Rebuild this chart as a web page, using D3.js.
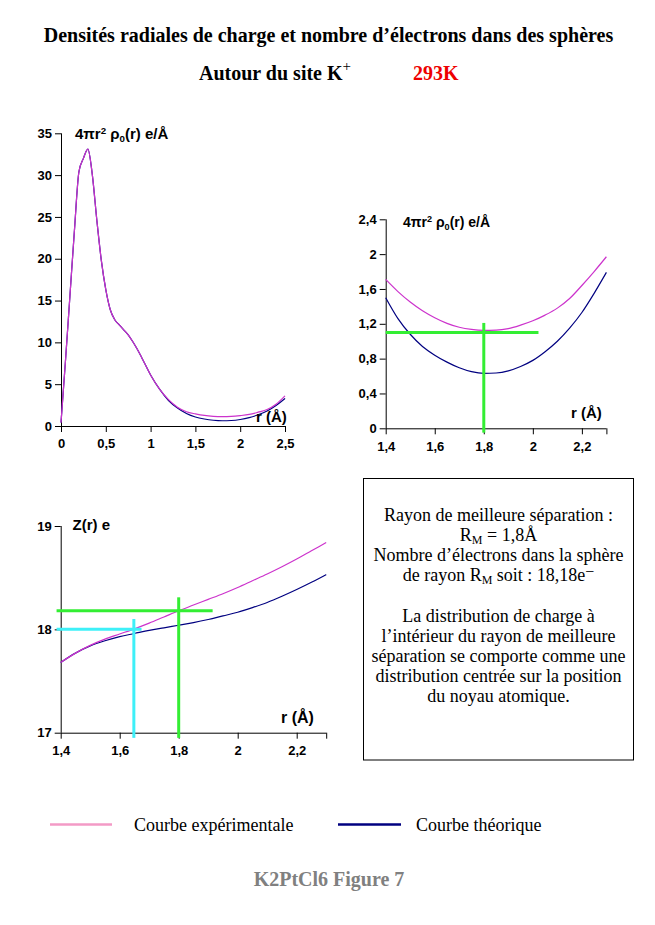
<!DOCTYPE html>
<html><head><meta charset="utf-8">
<script src="https://cdn.jsdelivr.net/npm/d3@7/dist/d3.min.js"></script>
<style>body{margin:0;background:#fff}svg{display:block}</style>
</head><body>
<svg id="c" width="655" height="925"></svg>
<script>
// ---- data ----
const tlR    = [0,0.05,0.1,0.15,0.2,0.25,0.3,0.35,0.4,0.45,0.5,0.55,0.6,0.65,0.7,0.75,0.8,0.85,0.9,1.0,1.1,1.2,1.3,1.4,1.5,1.6,1.7,1.8,1.9,2.0,2.1,2.2,2.3,2.4,2.5];
const tlExp  = [0.4,7.8,15.6,23.4,30.4,32.0,33.1,30.0,24.6,19.8,16.3,13.9,12.7,12.1,11.5,10.9,10.1,9.2,8.2,6.1,4.4,3.15,2.25,1.71,1.45,1.26,1.16,1.125,1.15,1.24,1.38,1.65,1.97,2.6,3.6];
const tlTheo = [0.4,7.8,15.6,23.4,30.4,32.0,33.1,30.0,24.6,19.8,16.3,13.9,12.7,12.1,11.5,10.9,10.1,9.2,8.2,6.1,4.4,3.05,2.15,1.50,1.08,0.84,0.69,0.63,0.66,0.78,1.00,1.34,1.79,2.45,3.3];

const zR     = [1.40,1.45,1.50,1.55,1.60,1.65,1.70,1.75,1.80,1.85,1.90,1.95,2.00,2.05,2.10,2.15,2.20,2.25,2.30];
const trExp  = [1.71,1.57,1.45,1.35,1.27,1.205,1.16,1.135,1.125,1.127,1.145,1.185,1.235,1.30,1.38,1.49,1.64,1.80,1.97];
const trTheo = [1.50,1.26,1.08,0.94,0.84,0.76,0.695,0.65,0.63,0.635,0.66,0.71,0.78,0.88,1.00,1.15,1.33,1.55,1.79];
const zExp   = [17.68,17.77,17.845,17.905,17.955,18.005,18.06,18.12,18.18,18.235,18.29,18.345,18.405,18.47,18.535,18.605,18.68,18.76,18.84];
const zTheo  = [17.68,17.77,17.84,17.89,17.93,17.96,17.99,18.015,18.04,18.065,18.095,18.13,18.165,18.21,18.26,18.32,18.385,18.455,18.53];

const tlXTicks = [0,0.5,1,1.5,2,2.5];
const tlYTicks = [0,5,10,15,20,25,30,35];
const trXTicks = [1.4,1.6,1.8,2.0,2.2,2.3];
const trYTicks = [0,0.4,0.8,1.2,1.6,2.0,2.4];
const zXTicks  = [1.4,1.6,1.8,2.0,2.2,2.3];
const zYTicks  = [17,18,19];

// reference (guide) lines in data units: [x1,y1,x2,y2]
const trGuides = [[1.4,1.10,2.023,1.10],[1.8,1.21,1.8,-0.05]];
const zGreen   = [[1.386,18.18,1.915,18.18],[1.8,18.31,1.8,16.95]];
const zCyan    = [[1.386,18.0,1.674,18.0],[1.648,18.10,1.648,16.95]];

const textLines = [
  [["Rayon de meilleure séparation :"]],
  [["R"],["M","sub"],[" = 1,8Å"]],
  [["Nombre d’électrons dans la sphère"]],
  [["de rayon R"],["M","sub"],[" soit : 18,18e"],["−","sup"]],
  [[""]],
  [["La distribution de charge à"]],
  [["l’intérieur du rayon de meilleure"]],
  [["séparation se comporte comme une"]],
  [["distribution centrée sur la position"]],
  [["du noyau atomique."]]
];
const legendLabels = ["Courbe expérimentale","Courbe théorique"];

// ---- style ----
const EXP = "#cc33cc", THEO = "#000080", GREEN = "#33ee33", CYAN = "#3ef0f8";
const SANS = "'Liberation Sans', Arial, sans-serif";
const SERIF = "'Liberation Serif', 'Times New Roman', serif";
const fr = v => String(+v.toFixed(2)).replace(".", ",");

const svg = d3.select("#c");
svg.append("rect").attr("width",655).attr("height",925).attr("fill","#fff");

// title
svg.append("text").attr("x",328.5).attr("y",42).attr("text-anchor","middle")
  .attr("font-family",SERIF).attr("font-weight","bold").attr("font-size",20)
  .text("Densités radiales de charge et nombre d’électrons dans des sphères");
const t2 = svg.append("text").attr("x",199).attr("y",80)
  .attr("font-family",SERIF).attr("font-weight","bold").attr("font-size",20);
t2.append("tspan").text("Autour du site K");
t2.append("tspan").attr("dy",-9).attr("font-size",15).attr("font-weight","normal").text("+");
svg.append("text").attr("x",413).attr("y",80).attr("fill","#ee0000")
  .attr("font-family",SERIF).attr("font-weight","bold").attr("font-size",20).text("293K");

function chart(o){
  const g = svg.append("g");
  const x = d3.scaleLinear().domain(o.xd).range(o.xr);
  const y = d3.scaleLinear().domain(o.yd).range(o.yr);
  const xa = g.append("g").attr("transform",`translate(0,${o.yr[0]})`)
    .call(d3.axisBottom(x).tickValues(o.xt).tickSize(6).tickPadding(7)
      .tickFormat(d => (o.noLabel && o.noLabel.includes(d)) ? "" : fr(d)));
  const ya = g.append("g").attr("transform",`translate(${o.xr[0]},0)`)
    .call(d3.axisLeft(y).tickValues(o.yt).tickSize(6).tickPadding(3).tickFormat(fr));
  [xa,ya].forEach(a=>{
    a.select(".domain").attr("stroke","#000");
    a.selectAll("text").attr("font-family",SANS).attr("font-weight","bold").attr("font-size",13).attr("fill","#000");
    a.selectAll("line").attr("stroke","#000");
  });
  xa.select(".domain").attr("d",`M${o.xr[0]},0.5H${o.xr[1]}`);
  ya.select(".domain").attr("d",`M0.5,${o.yr[0]}V${o.yr[1]}`);
  const line = d3.line().x(d=>x(d[0])).y(d=>y(d[1])).curve(d3.curveMonotoneX);
  o.series.forEach(s=>{
    g.append("path").attr("d",line(o.r.map((r,i)=>[r,s.v[i]])))
      .attr("fill","none").attr("stroke",s.c).attr("stroke-width",1.2);
  });
  (o.guides||[]).forEach(gd=>{
    gd.lines.forEach(L=>{
      g.append("line").attr("x1",x(L[0])).attr("y1",y(L[1])).attr("x2",x(L[2])).attr("y2",y(L[3]))
        .attr("stroke",gd.c).attr("stroke-width",3);
    });
  });
  // axis titles
  const yl = g.append("text").attr("x",o.yl[0]).attr("y",o.yl[1])
    .attr("font-family",SANS).attr("font-weight","bold").attr("font-size",o.yl[2]);
  o.ylab.forEach(p=>{
    const ts = yl.append("tspan").text(p[0]);
    if(p[1]==="sup") ts.attr("font-size",o.yl[2]*0.65).attr("dy",-5);
    if(p[1]==="sub") ts.attr("font-size",o.yl[2]*0.65).attr("dy",3);
    if(p[1]==="back") ts.attr("dy",p[2]);
  });
  g.append("text").attr("x",o.xl[0]).attr("y",o.xl[1])
    .attr("font-family",SANS).attr("font-weight","bold").attr("font-size",o.xl[2]).text("r (Å)");
}

const rhoLabel = [["4πr"],["2","sup"],[" ρ","back",5],["0","sub"],["(r) e/Å","back",-3]];

chart({xd:[0,2.5],xr:[61,285],yd:[0,35],yr:[426,133.3],xt:tlXTicks,yt:tlYTicks,
  r:tlR,series:[{v:tlTheo,c:THEO},{v:tlExp,c:EXP}],
  ylab:rhoLabel,yl:[75,139,15],xl:[256,422,15]});

chart({xd:[1.4,2.3],xr:[385.7,606.4],yd:[0,2.4],yr:[428.3,219.3],xt:trXTicks,yt:trYTicks,noLabel:[2.3],
  r:zR,series:[{v:trTheo,c:THEO},{v:trExp,c:EXP}],guides:[{c:GREEN,lines:trGuides}],
  ylab:rhoLabel,yl:[403,227,14],xl:[571,418,15]});

chart({xd:[1.4,2.3],xr:[60.7,326.2],yd:[17,19],yr:[732.7,526],xt:zXTicks,yt:zYTicks,noLabel:[2.3],
  r:zR,series:[{v:zTheo,c:THEO},{v:zExp,c:EXP}],guides:[{c:GREEN,lines:zGreen},{c:CYAN,lines:zCyan}],
  ylab:[["Z(r) e"]],yl:[72.5,530,15],xl:[281,723,16]});

// text box
svg.append("rect").attr("x",363.5).attr("y",478.5).attr("width",270).attr("height",281.5)
  .attr("fill","none").attr("stroke","#000").attr("stroke-width",1);
textLines.forEach((ln,i)=>{
  const t = svg.append("text").attr("x",498.5).attr("y",521+i*20.1).attr("text-anchor","middle")
    .attr("font-family",SERIF).attr("font-size",18).attr("fill","#000");
  ln.forEach((p,j)=>{
    const ts = t.append("tspan").text(p[0]);
    const prev = ln[j-1];
    if(p[1]==="sub") ts.attr("font-size",12).attr("dy",3);
    else if(p[1]==="sup") ts.attr("font-size",16).attr("dy",-4);
    else if(prev && prev[1]==="sub") ts.attr("dy",-3);
    else if(prev && prev[1]==="sup") ts.attr("dy",4);
  });
});

// legend
const legC = [{c:"#f39ac6",x1:50,x2:112,tx:134},{c:THEO,x1:338,x2:401,tx:416}];
legendLabels.forEach((lab,i)=>{
  svg.append("line").attr("x1",legC[i].x1).attr("x2",legC[i].x2).attr("y1",824.5).attr("y2",824.5)
    .attr("stroke",legC[i].c).attr("stroke-width",2.5);
  svg.append("text").attr("x",legC[i].tx).attr("y",831).attr("font-family",SERIF).attr("font-size",18)
    .text(lab);
});
svg.append("text").attr("x",329).attr("y",886).attr("text-anchor","middle").attr("fill","#808080")
  .attr("font-family",SERIF).attr("font-weight","bold").attr("font-size",20).text("K2PtCl6 Figure 7");
</script>
</body></html>
